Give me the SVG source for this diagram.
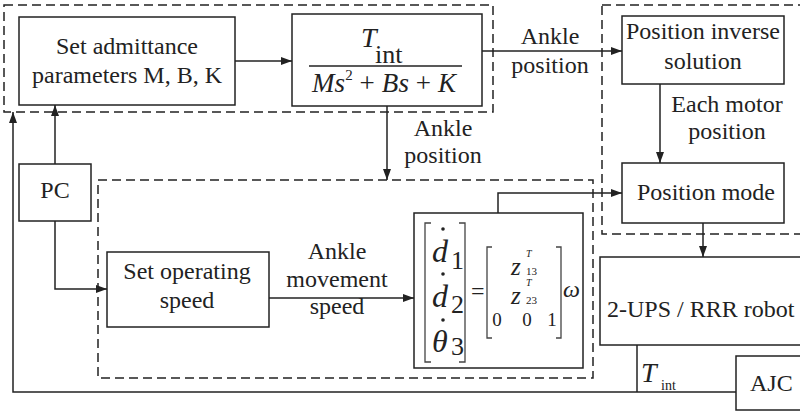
<svg xmlns="http://www.w3.org/2000/svg" width="800" height="412" viewBox="0 0 800 412">
<defs>
<style>
.box{fill:none;stroke:#222;stroke-width:1.5}
.dash{fill:none;stroke:#222;stroke-width:1.5;stroke-dasharray:9 5}
.wire{fill:none;stroke:#222;stroke-width:1.5}
.brk{fill:none;stroke:#444;stroke-width:1.3}
.c{text-anchor:middle}
.i{font-style:italic}
</style>
<marker id="ah" markerUnits="userSpaceOnUse" markerWidth="11" markerHeight="8" refX="11" refY="4" orient="auto">
<path d="M0,0 L11,4 L0,8 z" fill="#222"/>
</marker>
</defs>
<rect width="800" height="412" fill="#fff"/>
<g font-family="Liberation Serif, Times New Roman, serif" font-size="24" fill="#222">

<g id="groups">
<rect class="dash" x="4" y="5" width="489" height="107"/>
<rect class="dash" x="602" y="5" width="210" height="229"/>
<rect class="dash" x="98" y="180" width="495" height="198"/>
</g>

<g id="admittance">
<rect class="box" x="19" y="17" width="216" height="88"/>
<text class="c" x="127" y="54">Set admittance</text>
<text class="c" x="127" y="83">parameters M, B, K</text>
</g>

<g id="transfer">
<rect class="box" x="292" y="14" width="190" height="92"/>
<text class="i" x="361" y="47" font-size="28">T</text>
<text x="375" y="63" font-size="26">int</text>
<line x1="309" y1="66" x2="462" y2="66" stroke="#222" stroke-width="1.3"/>
<text x="312" y="92" font-size="27" textLength="144" lengthAdjust="spacing"><tspan class="i">Ms</tspan><tspan font-size="15" dy="-12">2</tspan><tspan dy="12"> + </tspan><tspan class="i">Bs</tspan> + <tspan class="i">K</tspan></text>
</g>

<g id="inverse">
<rect class="box" x="622" y="16" width="162" height="68"/>
<text class="c" x="703" y="39">Position inverse</text>
<text class="c" x="703" y="69">solution</text>
</g>

<g id="posmode">
<rect class="box" x="622" y="163" width="162" height="60"/>
<text class="c" x="706" y="200">Position mode</text>
</g>

<g id="robot">
<rect class="box" x="600" y="257" width="210" height="88"/>
<text x="607" y="317">2-UPS / RRR robot</text>
</g>

<g id="ajc">
<rect class="box" x="736" y="356" width="70" height="54"/>
<text x="750" y="391">AJC</text>
</g>

<g id="pc">
<rect class="box" x="19" y="164" width="72" height="57"/>
<text class="c" x="55" y="198">PC</text>
</g>

<g id="speed">
<rect class="box" x="107" y="252" width="162" height="75"/>
<text class="c" x="187" y="279">Set operating</text>
<text class="c" x="187" y="308">speed</text>
</g>

<g id="jacobian">
<rect class="box" x="414" y="213" width="169" height="155"/>
<path class="brk" d="M431,223 H425 V362 H431 M459,223 H465 V362 H459"/>
<text class="i" x="432" y="262" font-size="32">d</text>
<text x="451" y="269" font-size="26">1</text>
<circle cx="443" cy="229" r="1.8" fill="#222"/>
<text class="i" x="432" y="307" font-size="32">d</text>
<text x="451" y="313" font-size="26">2</text>
<circle cx="443" cy="274" r="1.8" fill="#222"/>
<text class="i" x="432" y="352" font-size="32">θ</text>
<text x="451" y="355" font-size="26">3</text>
<circle cx="443" cy="320" r="1.8" fill="#222"/>
<text x="471" y="299" font-size="24">=</text>
<path class="brk" d="M492,247 H487 V338 H492 M556,247 H561 V338 H556"/>
<text class="i" x="511" y="275" font-size="25">z</text>
<text class="i" x="526" y="257" font-size="10">T</text>
<text x="526" y="275" font-size="11">13</text>
<text class="i" x="511" y="304" font-size="25">z</text>
<text class="i" x="526" y="286" font-size="10">T</text>
<text x="526" y="304" font-size="11">23</text>
<text class="c" x="497" y="326" font-size="19">0</text>
<text class="c" x="527" y="326" font-size="19">0</text>
<text class="c" x="552" y="326" font-size="19">1</text>
<text class="i" x="563" y="297" font-size="24">ω</text>
</g>

<g id="connectors">
<line class="wire" x1="235" y1="61" x2="292" y2="61" marker-end="url(#ah)"/>
<line class="wire" x1="482" y1="51" x2="622" y2="51" marker-end="url(#ah)"/>
<line class="wire" x1="387" y1="106" x2="387" y2="180" marker-end="url(#ah)"/>
<line class="wire" x1="660" y1="84" x2="660" y2="163" marker-end="url(#ah)"/>
<line class="wire" x1="703" y1="223" x2="703" y2="257" marker-end="url(#ah)"/>
<polyline class="wire" points="498,213 498,193 622,193" marker-end="url(#ah)"/>
<line class="wire" x1="269" y1="298" x2="414" y2="298" marker-end="url(#ah)"/>
<line class="wire" x1="55" y1="164" x2="55" y2="105" marker-end="url(#ah)"/>
<polyline class="wire" points="55,221 55,289 107,289" marker-end="url(#ah)"/>
<polyline class="wire" points="637,345 637,392" />
<polyline class="wire" points="736,392 13,392 13,112" marker-end="url(#ah)"/>
<text class="c" x="550" y="44">Ankle</text>
<text class="c" x="550" y="73">position</text>
<text class="c" x="443" y="136">Ankle</text>
<text class="c" x="443" y="163">position</text>
<text class="c" x="727" y="112">Each motor</text>
<text class="c" x="727" y="139">position</text>
<text class="c" x="337" y="259">Ankle</text>
<text class="c" x="337" y="287">movement</text>
<text class="c" x="337" y="314">speed</text>
<text class="i" x="641" y="382" font-size="28">T</text>
<text x="661" y="390" font-size="14">int</text>
</g>
</g>
</svg>
